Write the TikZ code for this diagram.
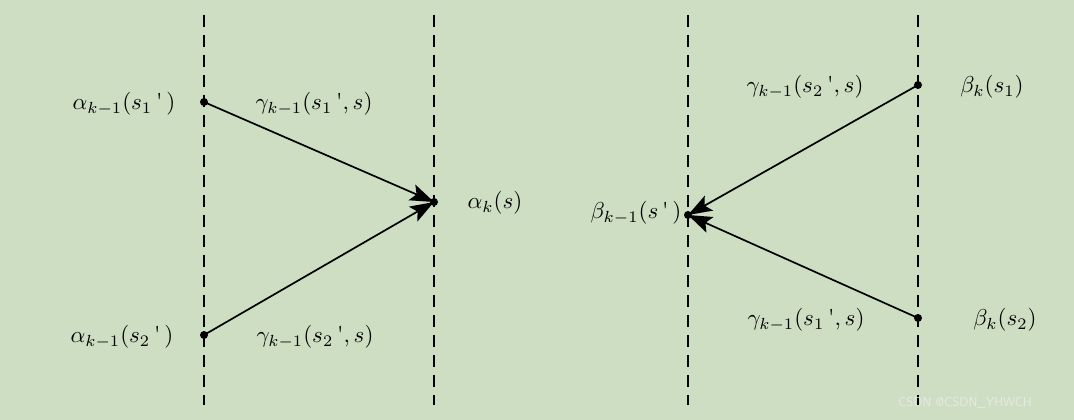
\documentclass[tikz,border=0pt]{standalone}
\usepackage{graphicx}
\usepackage{fontspec}
\usetikzlibrary{arrows.meta}
\definecolor{bg}{HTML}{CEDEC3}
\definecolor{wm}{HTML}{E6EAE4}
\newcommand{\apos}{\mbox{\textquotesingle}}
\newcommand{\lbl}[1]{\scalebox{2.3}{$#1$}}
\begin{document}
\begin{tikzpicture}[x=1pt,y=-1pt,
  vline/.style={dash pattern=on 12pt off 8pt, line width=1.6pt},
  conn/.style={line width=1.7pt, -{Stealth[length=24pt,width=17pt,inset=5pt]}},
  dot/.style={circle, fill=black, inner sep=0pt, minimum size=8pt},
  lab/.style={inner sep=0pt}]
\fill[bg] (0,0) rectangle (1074,420);
\useasboundingbox (0,0) rectangle (1074,420);
% dashed guide lines
\coordinate (l1t) at (204,15); \coordinate (l1b) at (204,405);
\coordinate (l2t) at (434,15); \coordinate (l2b) at (434,405);
\coordinate (r1t) at (688,15); \coordinate (r1b) at (688,405);
\coordinate (r2t) at (918,15); \coordinate (r2b) at (918,405);
\draw[vline] (l1t) -- (l1b);
\draw[vline] (l2t) -- (l2b);
\draw[vline] (r1t) -- (r1b);
\draw[vline] (r2t) -- (r2b);
% dots
\node[dot] (a1) at (204,102) {};
\node[dot] (a2) at (204,335) {};
\node[dot] (ak) at (434,202) {};
\node[dot] (b1) at (918,85) {};
\node[dot] (b2) at (918,318) {};
\node[dot] (bk) at (688,215) {};
% connectors
\draw[conn] (a1.center) -- (ak.center);
\draw[conn] (a2.center) -- (ak.center);
\draw[conn] (b1.center) -- (bk.center);
\draw[conn] (b2.center) -- (bk.center);
% labels
\node[lab] (ta1) at (124,104) {\lbl{\alpha_{k-1}(s_1\,\apos\,)}};
\node[lab] (tg1) at (314,104) {\lbl{\gamma_{k-1}(s_1\,\apos, s)}};
\node[lab] (tak) at (495,203) {\lbl{\alpha_k(s)}};
\node[lab] (ta2) at (122,337) {\lbl{\alpha_{k-1}(s_2\,\apos\,)}};
\node[lab] (tg2) at (315,337) {\lbl{\gamma_{k-1}(s_2\,\apos, s)}};
\node[lab] (tg3) at (805,87) {\lbl{\gamma_{k-1}(s_2\,\apos, s)}};
\node[lab] (tb1) at (992,87) {\lbl{\beta_k(s_1)}};
\node[lab] (tbk) at (636,213) {\lbl{\beta_{k-1}(s\,\apos\,)}};
\node[lab] (tg4) at (806,320) {\lbl{\gamma_{k-1}(s_1\,\apos, s)}};
\node[lab] (tb2) at (1005,320) {\lbl{\beta_k(s_2)}};
% watermark
\node[font=\sffamily\fontsize{13}{15}\selectfont, text=wm, inner sep=0pt] (wmk) at (965,403) {CSDN @CSDN\_YHWCH};
\end{tikzpicture}
\end{document}
